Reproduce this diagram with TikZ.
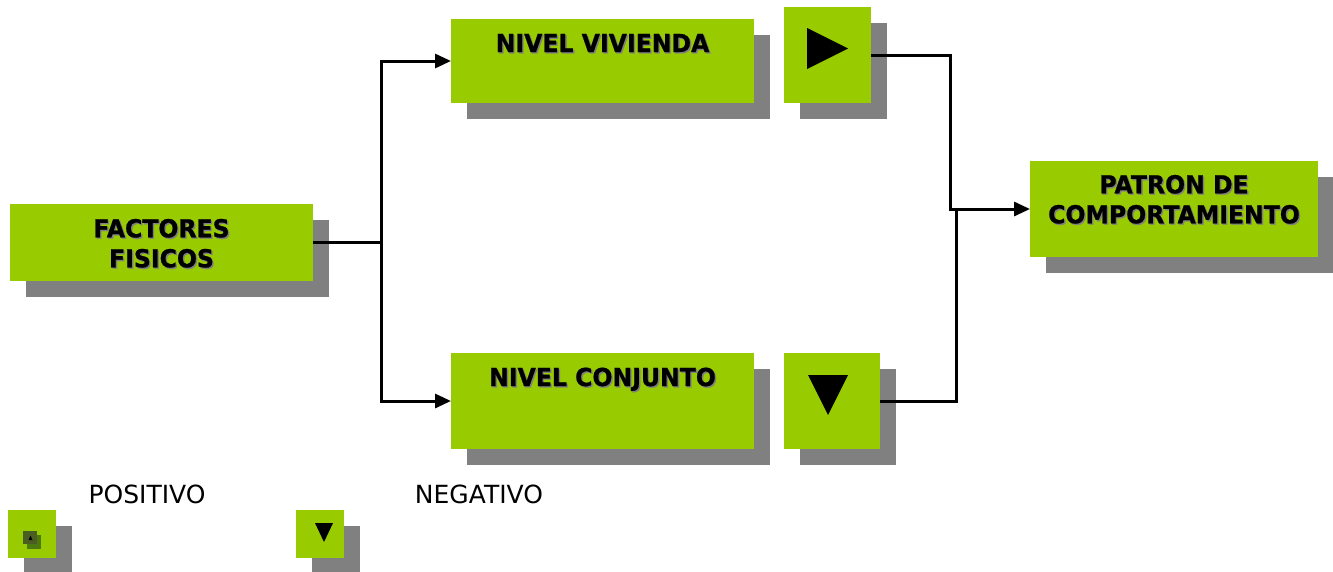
\documentclass[tikz,border=0pt]{standalone}
\usepackage{fontspec}
\setmainfont{DejaVu Sans}
\newfontfamily\titlefont[FakeStretch=0.95,FakeBold=0.8]{DejaVu Sans Bold}
\usetikzlibrary{shadows,arrows.meta}
\definecolor{boxgreen}{HTML}{99CC00}
\definecolor{shadowgray}{HTML}{808080}
\definecolor{oliveA}{HTML}{4B5E22}
\definecolor{oliveB}{HTML}{4D7A0E}
\newcommand{\shd}[1]{\makebox[0pt][l]{\hspace{1.4pt}\raisebox{-1.4pt}{\textcolor{shadowgray}{#1}}}#1}
\begin{document}
\begin{tikzpicture}[x=1pt,y=-1pt,
  box/.style={fill=boxgreen, inner sep=0pt, outer sep=0pt, draw=none,
    general shadow={fill=shadowgray, shadow xshift=16pt, shadow yshift=-16pt}},
  title/.style={font=\titlefont\fontsize{24.8}{30}\selectfont, align=center, inner sep=0pt},
  legendtext/.style={font=\fontsize{25}{28}\selectfont, inner sep=0pt},
  conn/.style={line width=3pt},
  arr/.style={conn, -{Triangle[length=16pt,width=14pt]}}
]
\useasboundingbox (0,0) rectangle (1333,571);

% boxes
\node[box, minimum width=303pt, minimum height=77pt] (ff) at (161.5,242.5) {};
\node[box, minimum width=303pt, minimum height=84pt] (nv) at (602.5,61) {};
\node[box, minimum width=87pt, minimum height=96pt] (t1) at (827.5,55) {};
\node[box, minimum width=303pt, minimum height=96pt] (nc) at (602.5,401) {};
\node[box, minimum width=96pt, minimum height=96pt] (t2) at (832,401) {};
\node[box, minimum width=288pt, minimum height=96pt] (pc) at (1174,209) {};
\node[box, minimum width=48pt, minimum height=48pt] (lp) at (32,534) {};
\node[box, minimum width=48pt, minimum height=48pt] (ln) at (320,534) {};

% triangles
\fill (807,28) -- (848,48.5) -- (807,69) -- cycle;
\fill (808,375) -- (848,375) -- (828,415) -- cycle;
\fill[oliveB] (27,535) rectangle (41,549);
\fill[oliveA] (23,531) rectangle (37,544);
\fill (28.5,540) -- (30.5,535.5) -- (32.5,540) -- cycle;
\fill (315,523) -- (333,523) -- (324,542) -- cycle;

% labels
\node[title] (ffl) at (161.5,244) {\shd{FACTORES}\\\shd{FISICOS}};
\node[title, anchor=base] (nvl) at (602.5,52) {\shd{NIVEL VIVIENDA}};
\node[title, anchor=base] (ncl) at (602.5,386) {\shd{NIVEL CONJUNTO}};
\node[title] (pcl) at (1174,200) {\shd{PATRON DE}\\\shd{COMPORTAMIENTO}};
\node[legendtext, anchor=base] (pos) at (147,503) {POSITIVO};
\node[legendtext, anchor=base] (neg) at (479,503) {NEGATIVO};

% connectors
\draw[arr] (ff.east) -- ++(68,0) |- (nv.west);
\draw[arr] (ff.east) -- ++(68,0) |- (nc.west);
\draw[conn] (t2.east) -- ++(76,0) |- ([xshift=-15pt]pc.west);
\draw[arr] (t1.east) -- ++(79,0) |- (pc.west);
\end{tikzpicture}
\end{document}
